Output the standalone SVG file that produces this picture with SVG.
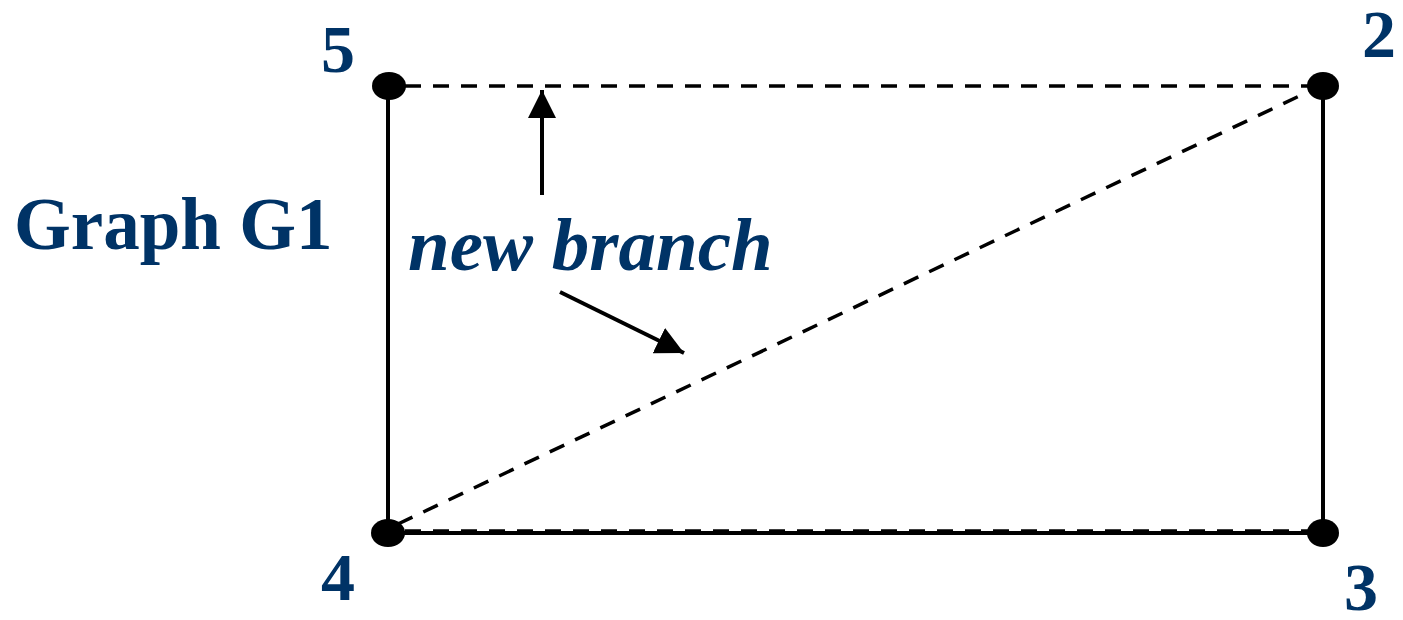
<svg xmlns="http://www.w3.org/2000/svg" width="1403" height="620" viewBox="0 0 1403 620">
<style>
.lbl{font-family:"Liberation Serif","Times New Roman",serif;font-weight:bold;fill:#003366}
.solid{stroke:#000;stroke-width:4;fill:none}
.dash{stroke:#000;stroke-width:3.5;fill:none;stroke-dasharray:16,12}
.node{fill:#000}
</style>
<defs>
<marker id="ah" markerUnits="userSpaceOnUse" markerWidth="30" markerHeight="30" refX="28" refY="14" orient="auto">
<path d="M0,0 L28,14 L0,28 Z" fill="#000"/>
</marker>
</defs>
<rect width="1403" height="620" fill="#fff"/>
<g id="connectors">
<line class="solid" x1="388" y1="86" x2="388" y2="533"/>
<line class="solid" x1="1323" y1="86" x2="1323" y2="533"/>
<line class="solid" x1="388" y1="533" x2="1323" y2="533"/>
<line class="dash" x1="405" y1="531" x2="1310" y2="531"/>
<line class="dash" x1="405" y1="86" x2="1310" y2="86"/>
<line class="dash" x1="398" y1="524" x2="1312" y2="90"/>
<line class="solid" x1="542" y1="195" x2="542" y2="90" marker-end="url(#ah)"/>
<line class="solid" x1="560" y1="292" x2="684" y2="353" marker-end="url(#ah)"/>
</g>
<g id="node5"><ellipse class="node" cx="389" cy="86" rx="17" ry="14"/><text class="lbl" x="321" y="72" font-size="68">5</text></g>
<g id="node2"><ellipse class="node" cx="1323" cy="86" rx="16" ry="14"/><text class="lbl" x="1362" y="57" font-size="68">2</text></g>
<g id="node4"><ellipse class="node" cx="388" cy="533" rx="17" ry="14"/><text class="lbl" x="321" y="600" font-size="68">4</text></g>
<g id="node3"><ellipse class="node" cx="1323" cy="533" rx="16" ry="14"/><text class="lbl" x="1344" y="610" font-size="68">3</text></g>
<g id="labels">
<text class="lbl" x="14" y="249" font-size="73">Graph G1</text>
<text class="lbl" x="408" y="270" font-size="75" font-style="italic">new branch</text>
</g>
</svg>
